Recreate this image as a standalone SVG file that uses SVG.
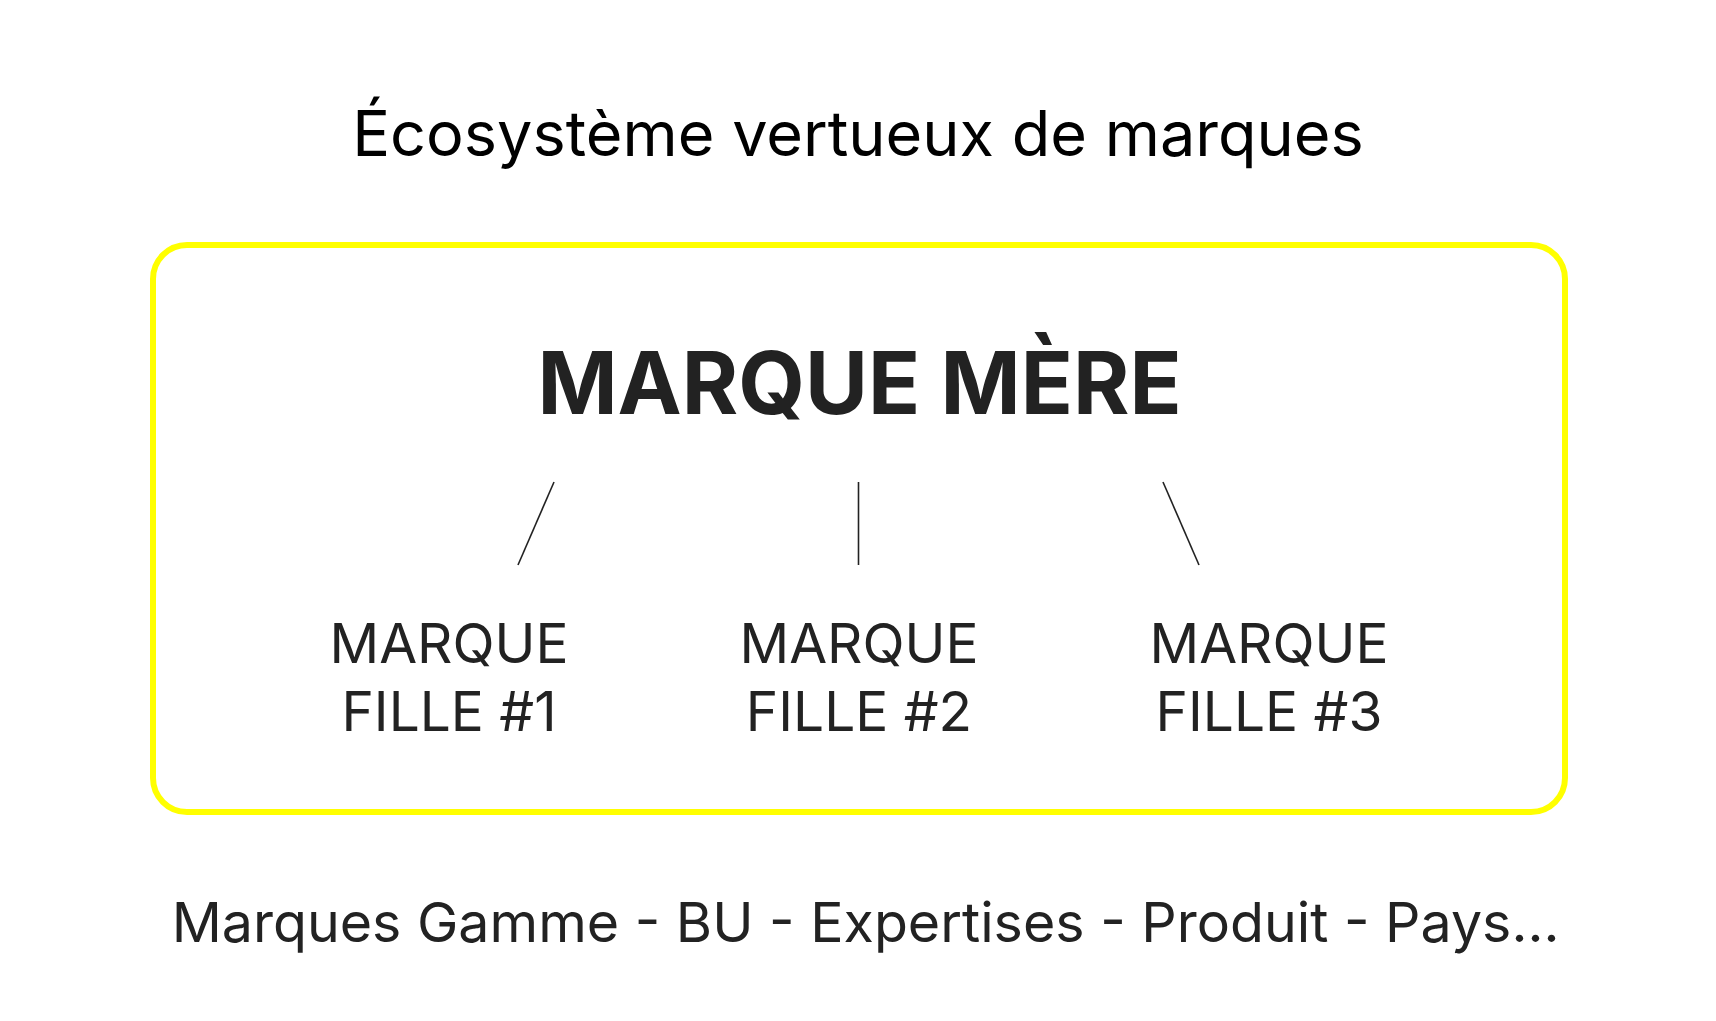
<svg xmlns="http://www.w3.org/2000/svg" width="1716" height="1021" viewBox="0 0 1716 1021">
  <style>
    text { font-family: Inter, "Noto Sans", "Liberation Sans", sans-serif; text-anchor: middle; }
    .title { font-size: 63px; fill: #000000; }
    .parent { font-size: 86px; font-weight: 700; fill: #222222; }
    .child { font-size: 55px; fill: #222222; }
    .footer { font-size: 55.5px; fill: #222222; }
    .frame { fill: none; stroke: #FFFF00; stroke-width: 6; }
    .link { stroke: #222222; stroke-width: 1.6; fill: none; }
  </style>
  <rect width="1716" height="1021" fill="#ffffff"/>
  <g id="title">
    <text class="title" x="858" y="156">Écosystème vertueux de marques</text>
  </g>
  <g id="ecosystem-frame">
    <rect class="frame" x="153" y="245" width="1412" height="567" rx="34" ry="34"/>
  </g>
  <g id="marque-mere">
    <text class="parent" x="859.5" y="414">MARQUE MÈRE</text>
  </g>
  <g id="connectors">
    <line class="link" x1="554" y1="482" x2="518" y2="565"/>
    <line class="link" x1="858.5" y1="482" x2="858.5" y2="565"/>
    <line class="link" x1="1163" y1="482" x2="1199" y2="565"/>
  </g>
  <g id="marque-fille-1">
    <text class="child" x="449" y="663">MARQUE</text>
    <text class="child" x="449" y="731">FILLE #1</text>
  </g>
  <g id="marque-fille-2">
    <text class="child" x="859" y="663">MARQUE</text>
    <text class="child" x="859" y="731">FILLE #2</text>
  </g>
  <g id="marque-fille-3">
    <text class="child" x="1269" y="663">MARQUE</text>
    <text class="child" x="1269" y="731">FILLE #3</text>
  </g>
  <g id="footer">
    <text class="footer" x="865.5" y="942">Marques Gamme - BU - Expertises - Produit - Pays...</text>
  </g>
</svg>
